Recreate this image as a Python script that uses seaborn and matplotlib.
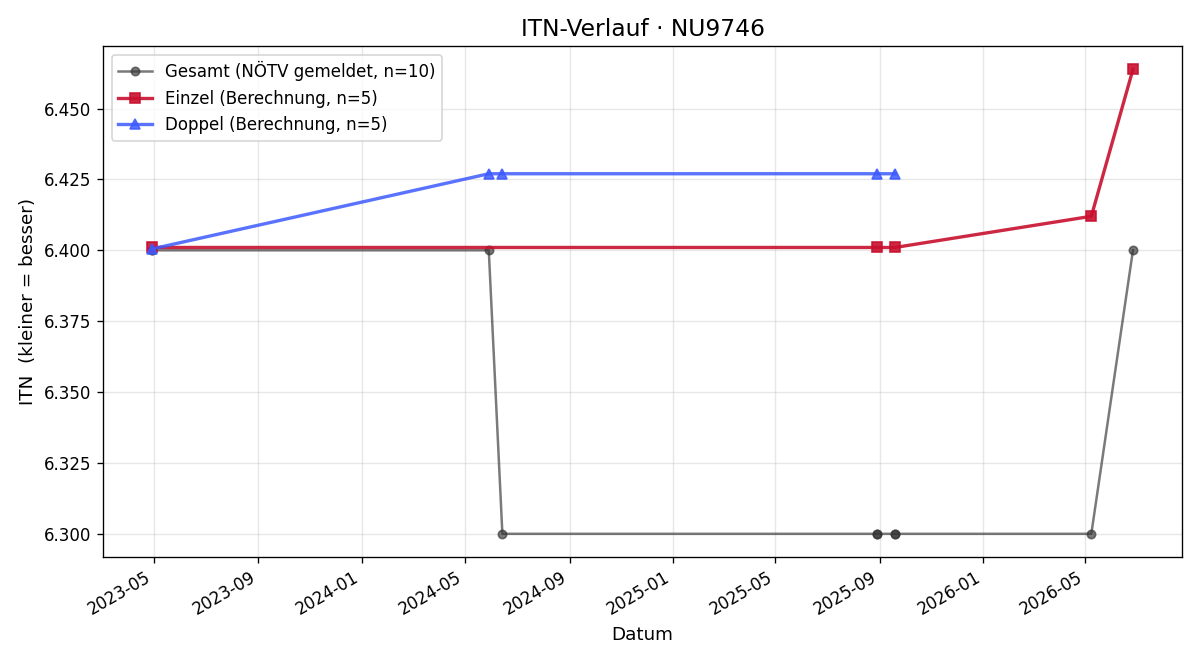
import matplotlib
matplotlib.use("Agg")
import matplotlib.pyplot as plt
import matplotlib.dates as mdates
import seaborn as sns
import pandas as pd

gesamt_dates = ["2023-04-29", "2023-04-29", "2024-05-29", "2024-06-14", "2025-08-29",
                "2025-08-29", "2025-09-19", "2025-09-19", "2026-05-08", "2026-06-26"]
gesamt_vals = [6.400, 6.400, 6.400, 6.300, 6.300, 6.300, 6.300, 6.300, 6.300, 6.400]

einzel_dates = ["2023-04-29", "2025-08-29", "2025-09-19", "2026-05-08", "2026-06-26"]
einzel_vals = [6.401, 6.401, 6.401, 6.412, 6.4638]

doppel_dates = ["2023-04-29", "2024-05-29", "2024-06-14", "2025-08-29", "2025-09-19"]
doppel_vals = [6.4005, 6.427, 6.427, 6.427, 6.427]

plt.rcParams["font.family"] = ["DejaVu Sans"]

fig, ax = plt.subplots(figsize=(10, 5.5), dpi=120)

g = pd.DataFrame({"d": pd.to_datetime(gesamt_dates), "v": gesamt_vals})
e = pd.DataFrame({"d": pd.to_datetime(einzel_dates), "v": einzel_vals})
p = pd.DataFrame({"d": pd.to_datetime(doppel_dates), "v": doppel_vals})

sns.lineplot(data=g, x="d", y="v", ax=ax, estimator=None, color="#333333", alpha=0.65,
             marker="o", markersize=5, markeredgecolor="#333333", markeredgewidth=1,
             linewidth=1.5, label="Gesamt (NÖTV gemeldet, n=10)")
sns.lineplot(data=e, x="d", y="v", ax=ax, estimator=None, color="#C8102E", alpha=0.9,
             marker="s", markersize=6, markeredgecolor="#C8102E", markeredgewidth=1,
             linewidth=2, label="Einzel (Berechnung, n=5)")
sns.lineplot(data=p, x="d", y="v", ax=ax, estimator=None, color="#3D5AFE", alpha=0.85,
             marker="^", markersize=6, markeredgecolor="#3D5AFE", markeredgewidth=1,
             linewidth=2, label="Doppel (Berechnung, n=5)")

ax.xaxis.set_major_locator(mdates.MonthLocator(bymonth=[1, 5, 9]))
ax.xaxis.set_major_formatter(mdates.DateFormatter("%Y-%m"))
ax.yaxis.set_major_formatter(matplotlib.ticker.FormatStrFormatter("%.3f"))
ax.grid(True, alpha=0.3)

ax.set_title("ITN-Verlauf · NU9746", fontsize=14)
ax.set_xlabel("Datum", fontsize=11)
ax.set_ylabel("ITN  (kleiner = besser)", fontsize=11)
ax.legend(loc="upper left", fontsize=10, frameon=True)
fig.autofmt_xdate()
fig.subplots_adjust(left=0.086, right=0.985, top=0.930, bottom=0.156)
fig.savefig("out.png", dpi=120)
